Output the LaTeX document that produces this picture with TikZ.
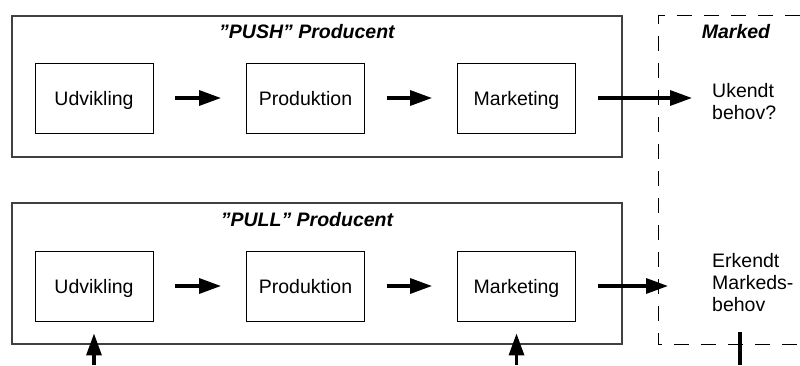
\documentclass[tikz,border=0pt]{standalone}
\usepackage{fontspec}
\setmainfont{Liberation Sans}
\usetikzlibrary{arrows.meta}

\begin{document}
\begin{tikzpicture}[x=1pt,y=1pt]
	\tikzstyle{ramme}=[draw=black!75,line width=1.3pt,minimum width=610pt,minimum height=141pt]
	\tikzstyle{trin}=[draw,line width=0.9pt,minimum width=118pt,minimum height=70pt,text height=14pt,text depth=0pt,font=\fontsize{19.5}{22}\selectfont]
	\tikzstyle{titel}=[inner sep=0pt,font=\fontsize{19.5}{22}\selectfont\bfseries\itshape]
	\tikzstyle{behov}=[anchor=north west,inner sep=0pt,align=left,font=\fontsize{19.5}{22}\selectfont]
	\tikzstyle{pil}=[line width=3.3pt,-{Triangle[length=22pt,width=15pt]}]
	\useasboundingbox (0,0) rectangle (800,365);
	
	% markedet, stiplet og aabent til hoejre
	\draw[dash pattern=on 15pt off 12pt,line width=1pt](800,349)--(658,349)--(658,21)--(800,21);
	
	\draw
	node[ramme](push)at(317,278.5){}
	node[ramme](pull)at(317,91.5){}
	node[titel](pushtitel)at(307,333.5){”PUSH” Producent}
	node[titel](pulltitel)at(307,145){”PULL” Producent}
	node[titel](marked)at(736,333.5){Marked}
	node[trin](udv1)at(94,267){Udvikling}
	node[trin](prod1)at(305.5,267){Produktion}
	node[trin](mark1)at(516.5,267){Marketing}
	node[trin](udv2)at(94,79){Udvikling}
	node[trin](prod2)at(305.5,79){Produktion}
	node[trin](mark2)at(516.5,79){Marketing}
	node[behov](ukendt)at(712,282){Ukendt\\behov?}
	node[behov](erkendt)at(712,112){Erkendt\\Markeds-\\behov};
	
	\coordinate (ud1) at (692,267);
	\coordinate (ud2) at (668,79);
	\coordinate (ind1) at (94,0);
	\coordinate (ind2) at (516.5,0);
	\coordinate (streg1) at (740,33);
	\coordinate (streg2) at (740,0);
	
	\draw[pil,shorten <=22pt,shorten >=25pt](udv1)--(prod1);
	\draw[pil,shorten <=22pt,shorten >=25pt](prod1)--(mark1);
	\draw[pil,shorten <=22pt](mark1)--(ud1);
	\draw[pil,shorten <=22pt,shorten >=25pt](udv2)--(prod2);
	\draw[pil,shorten <=22pt,shorten >=25pt](prod2)--(mark2);
	\draw[pil,shorten <=22pt](mark2)--(ud2);
	\draw[pil,shorten >=12pt](ind1)--(udv2);
	\draw[pil,shorten >=12pt](ind2)--(mark2);
	\draw[line width=3.3pt](streg1)--(streg2);
\end{tikzpicture}
\end{document}
